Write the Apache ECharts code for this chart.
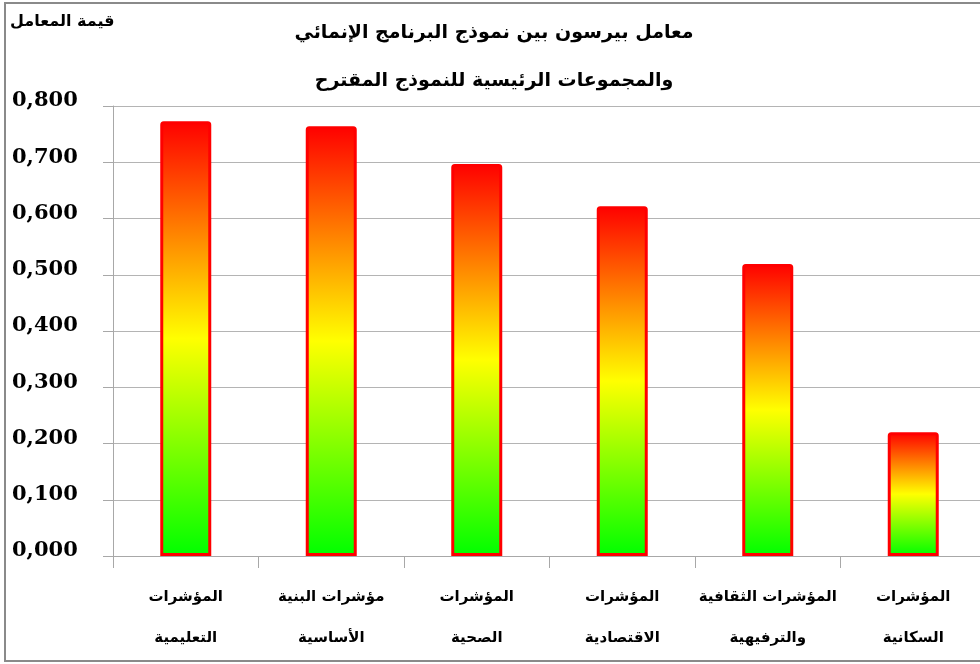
<!DOCTYPE html>
<html>
<head>
<meta charset="utf-8">
<script src="https://cdn.jsdelivr.net/npm/echarts@6/dist/echarts.min.js"></script>
<style>
html,body{margin:0;padding:0;background:#fff;}
#chart{width:980px;height:664px;}
</style>
</head>
<body>
<div id="chart"></div>
<script>
var titleLines = ['معامل بيرسون بين نموذج البرنامج الإنمائي', 'والمجموعات الرئيسية للنموذج المقترح'];
var yAxisName = 'قيمة المعامل';
var categories = [
  'المؤشرات\nالتعليمية',
  'مؤشرات البنية\nالأساسية',
  'المؤشرات\nالصحية',
  'المؤشرات\nالاقتصادية',
  'المؤشرات الثقافية\nوالترفيهية',
  'المؤشرات\nالسكانية'
];
var values = [0.773, 0.764, 0.697, 0.622, 0.519, 0.220];
var yMin = 0, yMax = 0.8, yStep = 0.1;

var chart = echarts.init(document.getElementById('chart'));
var barGradient = new echarts.graphic.LinearGradient(0, 0, 0, 1, [
  {offset: 0, color: '#ff0000'},
  {offset: 0.5, color: '#ffff00'},
  {offset: 1, color: '#00ff00'}
]);
chart.setOption({
  animation: false,
  backgroundColor: '#fff',
  graphic: [
    {type: 'rect', shape: {x: 5, y: 3, width: 1000, height: 658}, style: {fill: 'none', stroke: '#8a8a8a', lineWidth: 2}, z: 100},
    {type: 'text', left: 10, top: 14, style: {text: yAxisName, font: 'bold 16px "DejaVu Sans"', fill: '#000'}},
    {type: 'text', x: 494, y: 33, style: {text: titleLines[0], font: 'bold 19px "DejaVu Sans"', fill: '#000', align: 'center', verticalAlign: 'middle'}},
    {type: 'text', x: 494, y: 81, style: {text: titleLines[1], font: 'bold 19px "DejaVu Sans"', fill: '#000', align: 'center', verticalAlign: 'middle'}}
  ],
  grid: {left: 113, top: 106, width: 873, height: 450, containLabel: false, outerBoundsMode: 'none'},
  xAxis: {
    type: 'category',
    data: categories,
    axisLine: {show: true, lineStyle: {color: '#a8a8a8', width: 1}},
    axisTick: {show: true, length: 12, lineStyle: {color: '#a8a8a8'}},
    axisLabel: {
      interval: 0, margin: 21, color: '#000',
      fontFamily: 'DejaVu Sans', fontWeight: 'bold', fontSize: 15, lineHeight: 41
    },
    splitLine: {show: false}
  },
  yAxis: {
    type: 'value',
    min: yMin, max: yMax, interval: yStep,
    axisLine: {show: true, lineStyle: {color: '#a8a8a8', width: 1}},
    axisTick: {show: true, length: 10, lineStyle: {color: '#a8a8a8'}},
    splitLine: {show: true, lineStyle: {color: '#b4b4b4', width: 1}},
    axisLabel: {
      align: 'left', margin: 101, verticalAlign: 'bottom', lineHeight: 10,
      color: '#000', fontFamily: 'DejaVu Serif', fontWeight: 'bold', fontSize: 21,
      formatter: function (v) { return v.toFixed(3).replace('.', ','); }
    }
  },
  series: [{
    type: 'bar',
    data: values,
    barWidth: 51,
    itemStyle: {color: barGradient, borderColor: '#ff0000', borderWidth: 3, borderRadius: [2, 2, 0, 0]}
  }]
});
</script>
</body>
</html>
